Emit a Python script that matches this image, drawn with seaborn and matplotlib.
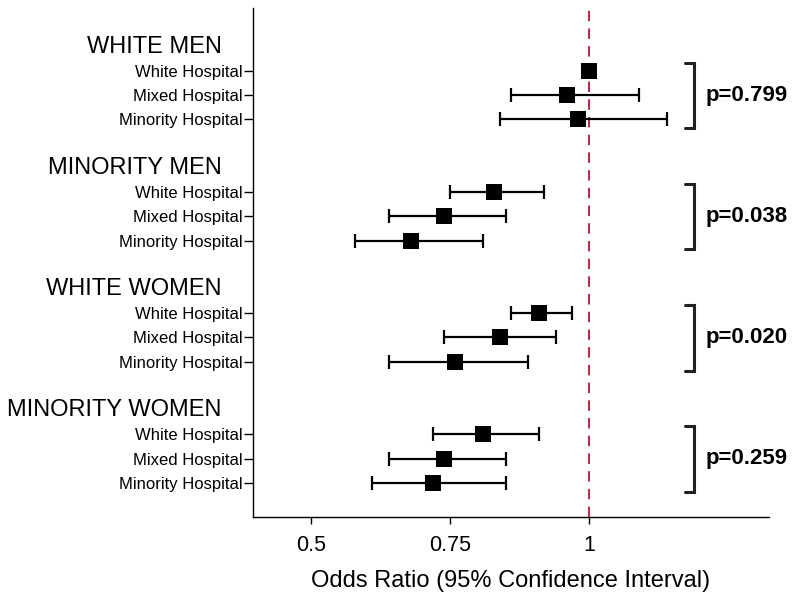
import numpy as np
import pandas as pd
import matplotlib
matplotlib.use("Agg")
import matplotlib.pyplot as plt
import matplotlib.transforms as mtransforms
import seaborn as sns

# data
groups = ["WHITE MEN", "MINORITY MEN", "WHITE WOMEN", "MINORITY WOMEN"]
hospitals = ["White Hospital", "Mixed Hospital", "Minority Hospital"]
odds_ratio = [[1.00, 0.96, 0.98],
              [0.83, 0.74, 0.68],
              [0.91, 0.84, 0.76],
              [0.81, 0.74, 0.72]]
ci_low = [[np.nan, 0.86, 0.84],
          [0.75, 0.64, 0.58],
          [0.86, 0.74, 0.64],
          [0.72, 0.64, 0.61]]
ci_high = [[np.nan, 1.09, 1.14],
           [0.92, 0.85, 0.81],
           [0.97, 0.94, 0.89],
           [0.91, 0.85, 0.85]]
p_values = ["p=0.799", "p=0.038", "p=0.020", "p=0.259"]
x_ticks = [0.5, 0.75, 1]
x_tick_labels = ["0.5", "0.75", "1"]

# one row per estimate; each group takes 5 slots (title, 3 rows, gap)
rows = []
for g, grp in enumerate(groups):
    for h, hosp in enumerate(hospitals):
        rows.append({"group": grp, "hospital": hosp, "pos": g * 5 + h + 1,
                     "or": odds_ratio[g][h], "lo": ci_low[g][h], "hi": ci_high[g][h]})
df = pd.DataFrame(rows)

sns.set_style("ticks")
plt.rcParams["font.family"] = ["Liberation Sans", "DejaVu Sans"]
for key in ["text.color", "axes.labelcolor", "xtick.color", "ytick.color", "axes.edgecolor"]:
    plt.rcParams[key] = "black"

fig = plt.figure(figsize=(8, 6.01), dpi=100)
ax = fig.add_axes([0.316, 0.14, 0.645, 0.847])

# confidence intervals
ax.errorbar(df["or"], df["pos"],
            xerr=[df["or"] - df["lo"], df["hi"] - df["or"]],
            fmt="none", ecolor="black", elinewidth=1.6, capsize=5, capthick=1.6, zorder=2)
# point estimates
sns.scatterplot(data=df, x="or", y="pos", marker="s", s=120, color="black",
                edgecolor="black", linewidth=0, ax=ax, zorder=3, legend=False)

ax.axvline(1, color="#b5304d", lw=1.5, ls=(0, (5, 3.5)), zorder=1)

ax.set_xlim(0.396, 1.323)
ax.set_ylim(19.4, -1.6)
ax.set_xticks(x_ticks)
ax.set_xticklabels(x_tick_labels, fontsize=15.5)
ax.set_yticks(df["pos"])
ax.set_yticklabels(df["hospital"], fontsize=12)
ax.tick_params(axis="y", length=6.5, width=1, pad=0.5)
ax.tick_params(axis="x", length=5, width=1, pad=8)
ax.set_xlabel("Odds Ratio (95% Confidence Interval)", fontsize=17, labelpad=10)
ax.set_ylabel("")
sns.despine(ax=ax)
for sp in ["left", "bottom"]:
    ax.spines[sp].set_linewidth(1)

trans = mtransforms.blended_transform_factory(ax.transAxes, ax.transData)
for g, grp in enumerate(groups):
    ax.text(-0.06, g * 5, grp, transform=trans, ha="right", va="center", fontsize=17)
    top, bot = g * 5 + 1 - 0.33, g * 5 + 3 + 0.37
    ax.plot([1.172, 1.188, 1.188, 1.172], [top, top, bot, bot],
            color="#222222", lw=2.2, clip_on=False, solid_joinstyle="miter")
    ax.text(1.21, g * 5 + 2, p_values[g], ha="left", va="center",
            fontsize=16, fontweight="bold", clip_on=False)

fig.savefig("out.png", dpi=100)
